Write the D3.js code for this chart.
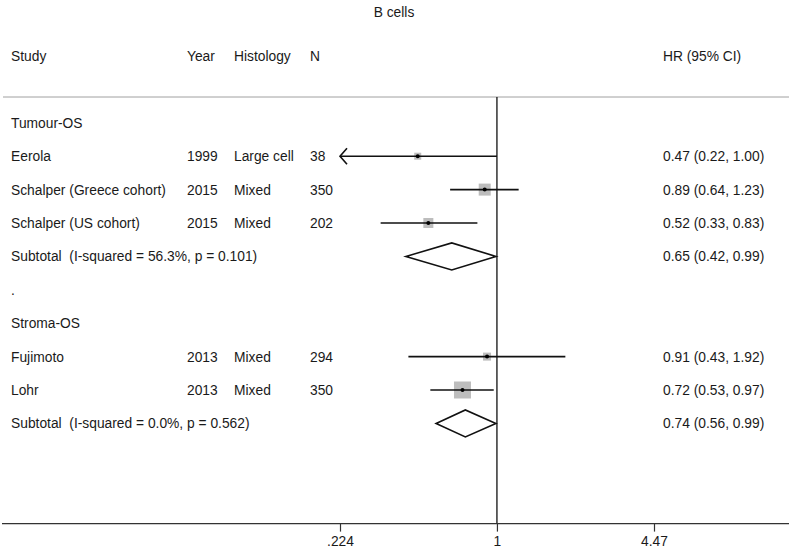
<!DOCTYPE html>
<html>
<head>
<meta charset="utf-8">
<script src="https://cdn.jsdelivr.net/npm/d3@7"></script>
<style>
  body { margin: 0; background: #fff; }
  text { font-family: "Liberation Sans", Arial, sans-serif; font-size: 13.8px; fill: #1a1a1a; white-space: pre; }
</style>
</head>
<body>
<svg width="789" height="550"></svg>
<script>
// Data
var studies = ["Eerola", "Schalper (Greece cohort)", "Schalper (US cohort)", "Fujimoto", "Lohr"];
var years = ["1999", "2015", "2015", "2013", "2013"];
var histology = ["Large cell", "Mixed", "Mixed", "Mixed", "Mixed"];
var nPatients = ["38", "350", "202", "294", "350"];
var hr = [0.47, 0.89, 0.52, 0.91, 0.72];
var lower = [0.22, 0.64, 0.33, 0.43, 0.53];
var upper = [1.00, 1.23, 0.83, 1.92, 0.97];
var weights = [7.6, 22.3, 15.5, 9.9, 44.7];
var studyRows = [3, 4, 5, 9, 10];

var subtotalLabels = ["Subtotal  (I-squared = 56.3%, p = 0.101)", "Subtotal  (I-squared = 0.0%, p = 0.562)"];
var subHr = [0.65, 0.74];
var subLower = [0.42, 0.56];
var subUpper = [0.99, 0.99];
var subtotalRows = [6, 11];

var groupLabels = ["Tumour-OS", "Stroma-OS"];
var groupRows = [2, 8];

var tickValues = [0.224, 1, 4.47];
var tickLabels = [".224", "1", "4.47"];

var fmt = d3.format(".2f");

var svg = d3.select("svg"),
  width = +svg.attr("width"),
  height = +svg.attr("height");

// Scales
var x = d3.scaleLog().domain([0.224, 4.47]).range([340, 654]);
var y = d3.scaleLinear().domain([0, 1]).range([56, 89.4]);
var boxSize = d3.scaleSqrt().domain([0, 44.7]).range([0, 17]);

var cols = { study: 11, year: 187, hist: 234, n: 310, hr: 663 };
var axisY = y(14);
var topLine = 97;
var baseShift = 5;

// title
svg.append("text")
  .attr("x", 394).attr("y", 17)
  .attr("text-anchor", "middle")
  .text("B cells");

// header
var header = [["Study", cols.study], ["Year", cols.year], ["Histology", cols.hist], ["N", cols.n], ["HR (95% CI)", cols.hr]];
svg.append("g").selectAll("text")
  .data(header)
  .enter()
  .append("text")
  .attr("x", function (d) { return d[1]; })
  .attr("y", y(0) + baseShift)
  .text(function (d) { return d[0]; });

// header rule
svg.append("line")
  .attr("x1", 3).attr("x2", width)
  .attr("y1", topLine).attr("y2", topLine)
  .attr("stroke", "#a0a0a0").attr("stroke-width", 1);

// group labels
svg.append("g").selectAll("text")
  .data(groupLabels)
  .enter()
  .append("text")
  .attr("x", cols.study)
  .attr("y", function (d, i) { return y(groupRows[i]) + baseShift; })
  .text(function (d) { return d; });

// the stray "." spacer row
svg.append("text").attr("x", cols.study).attr("y", y(7) + baseShift).text(".");

// study text columns
var rows = svg.append("g").selectAll("g")
  .data(studies)
  .enter()
  .append("g")
  .attr("transform", function (d, i) { return "translate(0," + (y(studyRows[i]) + baseShift) + ")"; });

rows.append("text").attr("x", cols.study).text(function (d) { return d; });
rows.append("text").attr("x", cols.year).text(function (d, i) { return years[i]; });
rows.append("text").attr("x", cols.hist).text(function (d, i) { return histology[i]; });
rows.append("text").attr("x", cols.n).text(function (d, i) { return nPatients[i]; });
rows.append("text").attr("x", cols.hr).text(function (d, i) {
  return fmt(hr[i]) + " (" + fmt(lower[i]) + ", " + fmt(upper[i]) + ")";
});

// subtotal text
var subs = svg.append("g").selectAll("g")
  .data(subtotalLabels)
  .enter()
  .append("g")
  .attr("transform", function (d, i) { return "translate(0," + (y(subtotalRows[i]) + baseShift) + ")"; });
subs.append("text").attr("x", cols.study).text(function (d) { return d; });
subs.append("text").attr("x", cols.hr).text(function (d, i) {
  return fmt(subHr[i]) + " (" + fmt(subLower[i]) + ", " + fmt(subUpper[i]) + ")";
});

// null line at HR = 1
svg.append("line")
  .attr("x1", x(1)).attr("x2", x(1))
  .attr("y1", topLine).attr("y2", axisY)
  .attr("stroke", "#111").attr("stroke-width", 1.3);

// boxes
var xMin = x.domain()[0];
svg.append("g").selectAll("rect")
  .data(studies)
  .enter()
  .append("rect")
  .attr("x", function (d, i) { return x(hr[i]) - boxSize(weights[i]) / 2; })
  .attr("y", function (d, i) { return y(studyRows[i]) - boxSize(weights[i]) / 2; })
  .attr("width", function (d, i) { return boxSize(weights[i]); })
  .attr("height", function (d, i) { return boxSize(weights[i]); })
  .attr("fill", "#bdbdbd");

// confidence intervals (arrow if beyond axis range)
svg.append("g").selectAll("line")
  .data(studies)
  .enter()
  .append("line")
  .attr("x1", function (d, i) { return x(Math.max(lower[i], xMin)); })
  .attr("x2", function (d, i) { return x(upper[i]); })
  .attr("y1", function (d, i) { return y(studyRows[i]); })
  .attr("y2", function (d, i) { return y(studyRows[i]); })
  .attr("stroke", "#111").attr("stroke-width", 1.6);

svg.append("g").selectAll("path")
  .data(studies.filter(function (d, i) { return lower[i] < xMin; }))
  .enter()
  .append("path")
  .attr("d", function (d) {
    var i = studies.indexOf(d), ax = x(xMin), ay = y(studyRows[i]);
    return "M" + (ax + 7) + "," + (ay - 8) + "L" + ax + "," + ay + "L" + (ax + 7) + "," + (ay + 8);
  })
  .attr("fill", "none").attr("stroke", "#111").attr("stroke-width", 1.6);

// point estimates
svg.append("g").selectAll("circle")
  .data(studies)
  .enter()
  .append("circle")
  .attr("cx", function (d, i) { return x(hr[i]); })
  .attr("cy", function (d, i) { return y(studyRows[i]); })
  .attr("r", 2)
  .attr("fill", "#000");

// subtotal diamonds
svg.append("g").selectAll("path")
  .data(subHr)
  .enter()
  .append("path")
  .attr("d", function (d, i) {
    var cy = y(subtotalRows[i]), h = 13.5;
    return "M" + x(subLower[i]) + "," + cy +
      "L" + x(d) + "," + (cy - h) +
      "L" + x(subUpper[i]) + "," + cy +
      "L" + x(d) + "," + (cy + h) + "Z";
  })
  .attr("fill", "none").attr("stroke", "#111").attr("stroke-width", 1.6);

// x axis
svg.append("line")
  .attr("x1", 2).attr("x2", width)
  .attr("y1", axisY).attr("y2", axisY)
  .attr("stroke", "#333").attr("stroke-width", 1.4);

var axis = d3.axisBottom(x)
  .tickValues(tickValues)
  .tickFormat(function (d, i) { return tickLabels[i]; })
  .tickSize(8)
  .tickPadding(5);

var gAxis = svg.append("g")
  .attr("transform", "translate(0," + axisY + ")")
  .call(axis);
gAxis.select(".domain").remove();
gAxis.selectAll("line").attr("stroke", "#333").attr("stroke-width", 1.2);
gAxis.selectAll("text").attr("font-size", null).attr("font-family", null).attr("fill", null);
</script>
</body>
</html>
